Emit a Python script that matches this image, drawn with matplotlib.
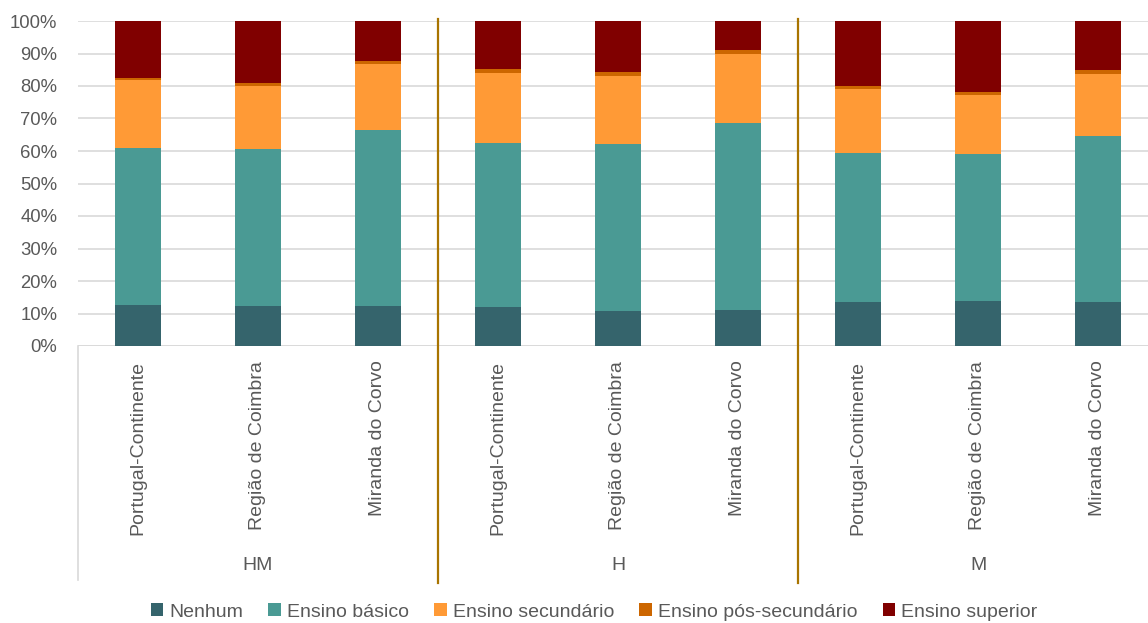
import matplotlib.pyplot as plt
from matplotlib.patches import Patch
from matplotlib.ticker import FixedLocator
import numpy as np

plt.rcParams['font.family'] = ['Liberation Sans', 'DejaVu Sans']

groups = ['HM', 'H', 'M']
places = ['Portugal-Continente', 'Região de Coimbra', 'Miranda do Corvo']
series = ['Nenhum', 'Ensino básico', 'Ensino secundário',
          'Ensino pós-secundário', 'Ensino superior']

# percent per bar, order: HM x3, H x3, M x3
nenhum = [12.7, 12.2, 12.2, 11.9, 10.9, 11.2, 13.6, 13.9, 13.6]
basico = [48.2, 48.5, 54.3, 50.6, 51.3, 57.5, 45.7, 45.2, 50.9]
secundario = [20.8, 19.3, 20.3, 21.5, 21.0, 21.1, 19.9, 18.2, 19.3]
pos_sec = [0.8, 1.0, 0.9, 1.3, 1.1, 1.3, 0.8, 0.8, 1.1]
superior = [17.5, 19.0, 12.3, 14.7, 15.7, 8.9, 20.0, 21.9, 15.1]

colors = ['#35646C', '#4A9A94', '#FF9A36', '#CC6600', '#800000']
txt = '#595959'

W, H = 1148, 623
fig = plt.figure(figsize=(W / 100, H / 100), dpi=100)
x0, x1, y0, y1 = 78, 1158, 346, 21
ax = fig.add_axes([x0 / W, 1 - y0 / H, (x1 - x0) / W, (y0 - y1) / H])

data = np.array([nenhum, basico, secundario, pos_sec, superior]) / 100.0
data = data / data.sum(axis=0)
x = np.arange(len(nenhum))
bottom = np.zeros(len(x))
for vals, c in zip(data, colors):
    ax.bar(x, vals, 0.39, bottom=bottom, color=c, edgecolor='none', zorder=3)
    bottom += vals

ax.set_xlim(-0.5, len(x) - 0.5)
ax.set_ylim(0, 1)
ax.yaxis.set_major_locator(FixedLocator(np.arange(0, 1.01, 0.1)))
ax.set_yticklabels(['%d%%' % v for v in range(0, 101, 10)])
ax.tick_params(axis='y', length=0, pad=15, labelsize=13.3, labelcolor=txt)
ax.tick_params(axis='x', length=0, labelbottom=False)
ax.grid(axis='y', color='#D9D9D9', lw=1.2, zorder=0)
for s in ax.spines.values():
    s.set_visible(False)
ax.axhline(0, color='#D9D9D9', lw=1.2, zorder=2)

# category labels
for i in x:
    ax.text(i, -0.045, places[i % 3], rotation=90, ha='center', va='top',
            fontsize=14, color=txt, clip_on=False)
for g, name in enumerate(groups):
    ax.text(3 * g + 1, -0.675, name, ha='center', va='center',
            fontsize=14, color=txt, clip_on=False)

# axis line below and separators
ax.plot([-0.5, -0.5], [0, -0.72], color='#D9D9D9', lw=1.2, clip_on=False)
for sx in [2.5, 5.5]:
    ax.plot([sx, sx], [1.006, -0.73], color='#A87400', lw=1.6,
            clip_on=False, zorder=4)

handles = [Patch(facecolor=c, edgecolor='none') for c in colors]
leg = fig.legend(handles, series, loc='center', bbox_to_anchor=(594 / W, 1 - 612 / H),
                 ncol=5, frameon=False, fontsize=14, handlelength=0.65,
                 handleheight=0.65, handletextpad=0.3, columnspacing=1.3)
for t in leg.get_texts():
    t.set_color(txt)

fig.savefig('out.png', dpi=100)
